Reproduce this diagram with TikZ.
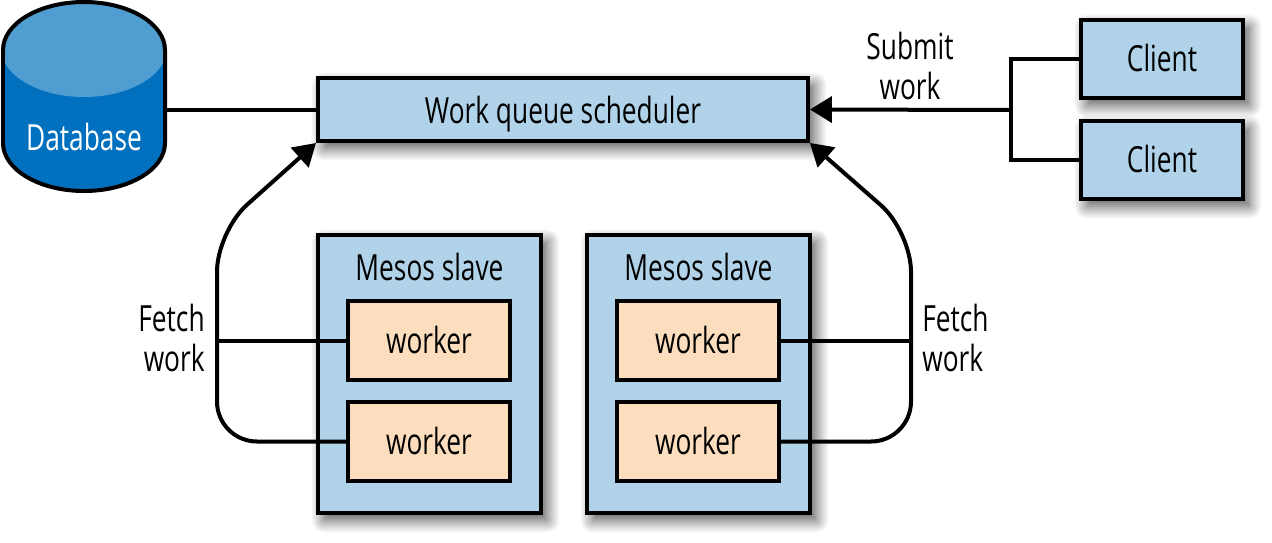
\documentclass[tikz,border=0pt]{standalone}
\usepackage{fontspec}
\setmainfont[FakeStretch=0.73]{Open Sans}
\usetikzlibrary{arrows.meta,shadows.blur,positioning}
\definecolor{paleblue}{RGB}{176,211,234}
\definecolor{peach}{RGB}{252,222,190}
\definecolor{dbdark}{RGB}{0,112,191}
\definecolor{dblight}{RGB}{79,157,209}
\tikzstyle{shade}=[blur shadow={shadow xshift=.12cm,shadow yshift=-.14cm,shadow blur steps=12,shadow blur radius=.26cm,shadow opacity=70}]
\tikzstyle{box}=[draw,line width=.08cm,inner sep=0pt,text height=.5cm,text depth=0pt,font=\fontsize{20.5}{20.5}\selectfont]
\tikzstyle{client}=[box,shade,fill=paleblue,minimum width=3.24cm,minimum height=1.56cm]
\tikzstyle{slave}=[box,shade,fill=paleblue,minimum width=4.46cm,minimum height=5.56cm]
\tikzstyle{worker}=[box,fill=peach,minimum width=3.24cm,minimum height=1.58cm]
\tikzstyle{note}=[inner sep=0pt,font=\fontsize{20.5}{22.7}\selectfont]
\tikzstyle{conn}=[line width=.08cm,rounded corners=.8cm]
\tikzstyle{tip}=[-{Triangle[length=.44cm,width=.52cm]}]

\begin{document}
\begin{tikzpicture}[x=.02cm,y=-.02cm]
        \useasboundingbox (0,0) rectangle (1272,542);

        \begin{scope}
          \clip (3,50) arc[start angle=180,end angle=0,x radius=81,y radius=-48]
            -- (165,143) arc[start angle=0,end angle=-180,x radius=81,y radius=-48] -- cycle;
          \fill[dbdark] (0,0) rectangle (170,195);
          \fill[dblight] (84,48) ellipse[x radius=83,y radius=49];
        \end{scope}
        \draw[line width=.08cm] (3,50) arc[start angle=180,end angle=0,x radius=81,y radius=-48]
          -- (165,143) arc[start angle=0,end angle=-180,x radius=81,y radius=-48] -- cycle;
        \node[inner sep=0pt,minimum width=3.24cm,minimum height=3.76cm] at (84,96) (db) {};
        \node[white,note] at (84,137) (dblabel) {Database};

        \node[box,shade,fill=paleblue,text height=.54cm,minimum width=9.8cm,minimum height=1.26cm] at (563,109.5) (sched) {Work queue scheduler};

        \node[client] at (1162,59) (clienta) {Client};
        \node[client] at (1162,160) (clientb) {Client};

        \node[slave] at (429.5,374) (slavel) {};
        \node[slave] at (698.5,374) (slaver) {};
        \node[note] at (429.5,267) (slavellabel) {Mesos slave};
        \node[note] at (698.5,267) (slaverlabel) {Mesos slave};

        \node[worker] at (429,340.5) (workerla) {worker};
        \node[worker] at (429,441.5) (workerlb) {worker};
        \node[worker] at (698,340.5) (workerra) {worker};
        \node[worker] at (698,441.5) (workerrb) {worker};

        \node[note,align=center] at (910,66) (submit) {Submit\\work};
        \node[note,align=right,anchor=east] at (205,338) (fetchl) {Fetch\\work};
        \node[note,align=left,anchor=west] at (922,338) (fetchr) {Fetch\\work};

        \coordinate (join) at (1011,110);
        \coordinate (bendl) at (217,231.6);
        \coordinate (bendr) at (911,231.6);

        \draw[conn] (db.east |- sched.west) -- (sched.west);
        \draw[conn,tip] (join) -- (sched.east);
        \draw[line width=.08cm] (clienta.west) -| (clientb.west -| join) -- (clientb.west);

        \draw[conn,tip] (workerlb.west) -| (bendl) -- (sched.south west);
        \draw[conn,tip] (workerrb.east) -| (bendr) -- (sched.south east);
        \draw[conn] (workerla.west) -- (workerla.west -| bendl);
        \draw[conn] (workerra.east) -- (workerra.east -| bendr);
      \end{tikzpicture}
\end{document}
